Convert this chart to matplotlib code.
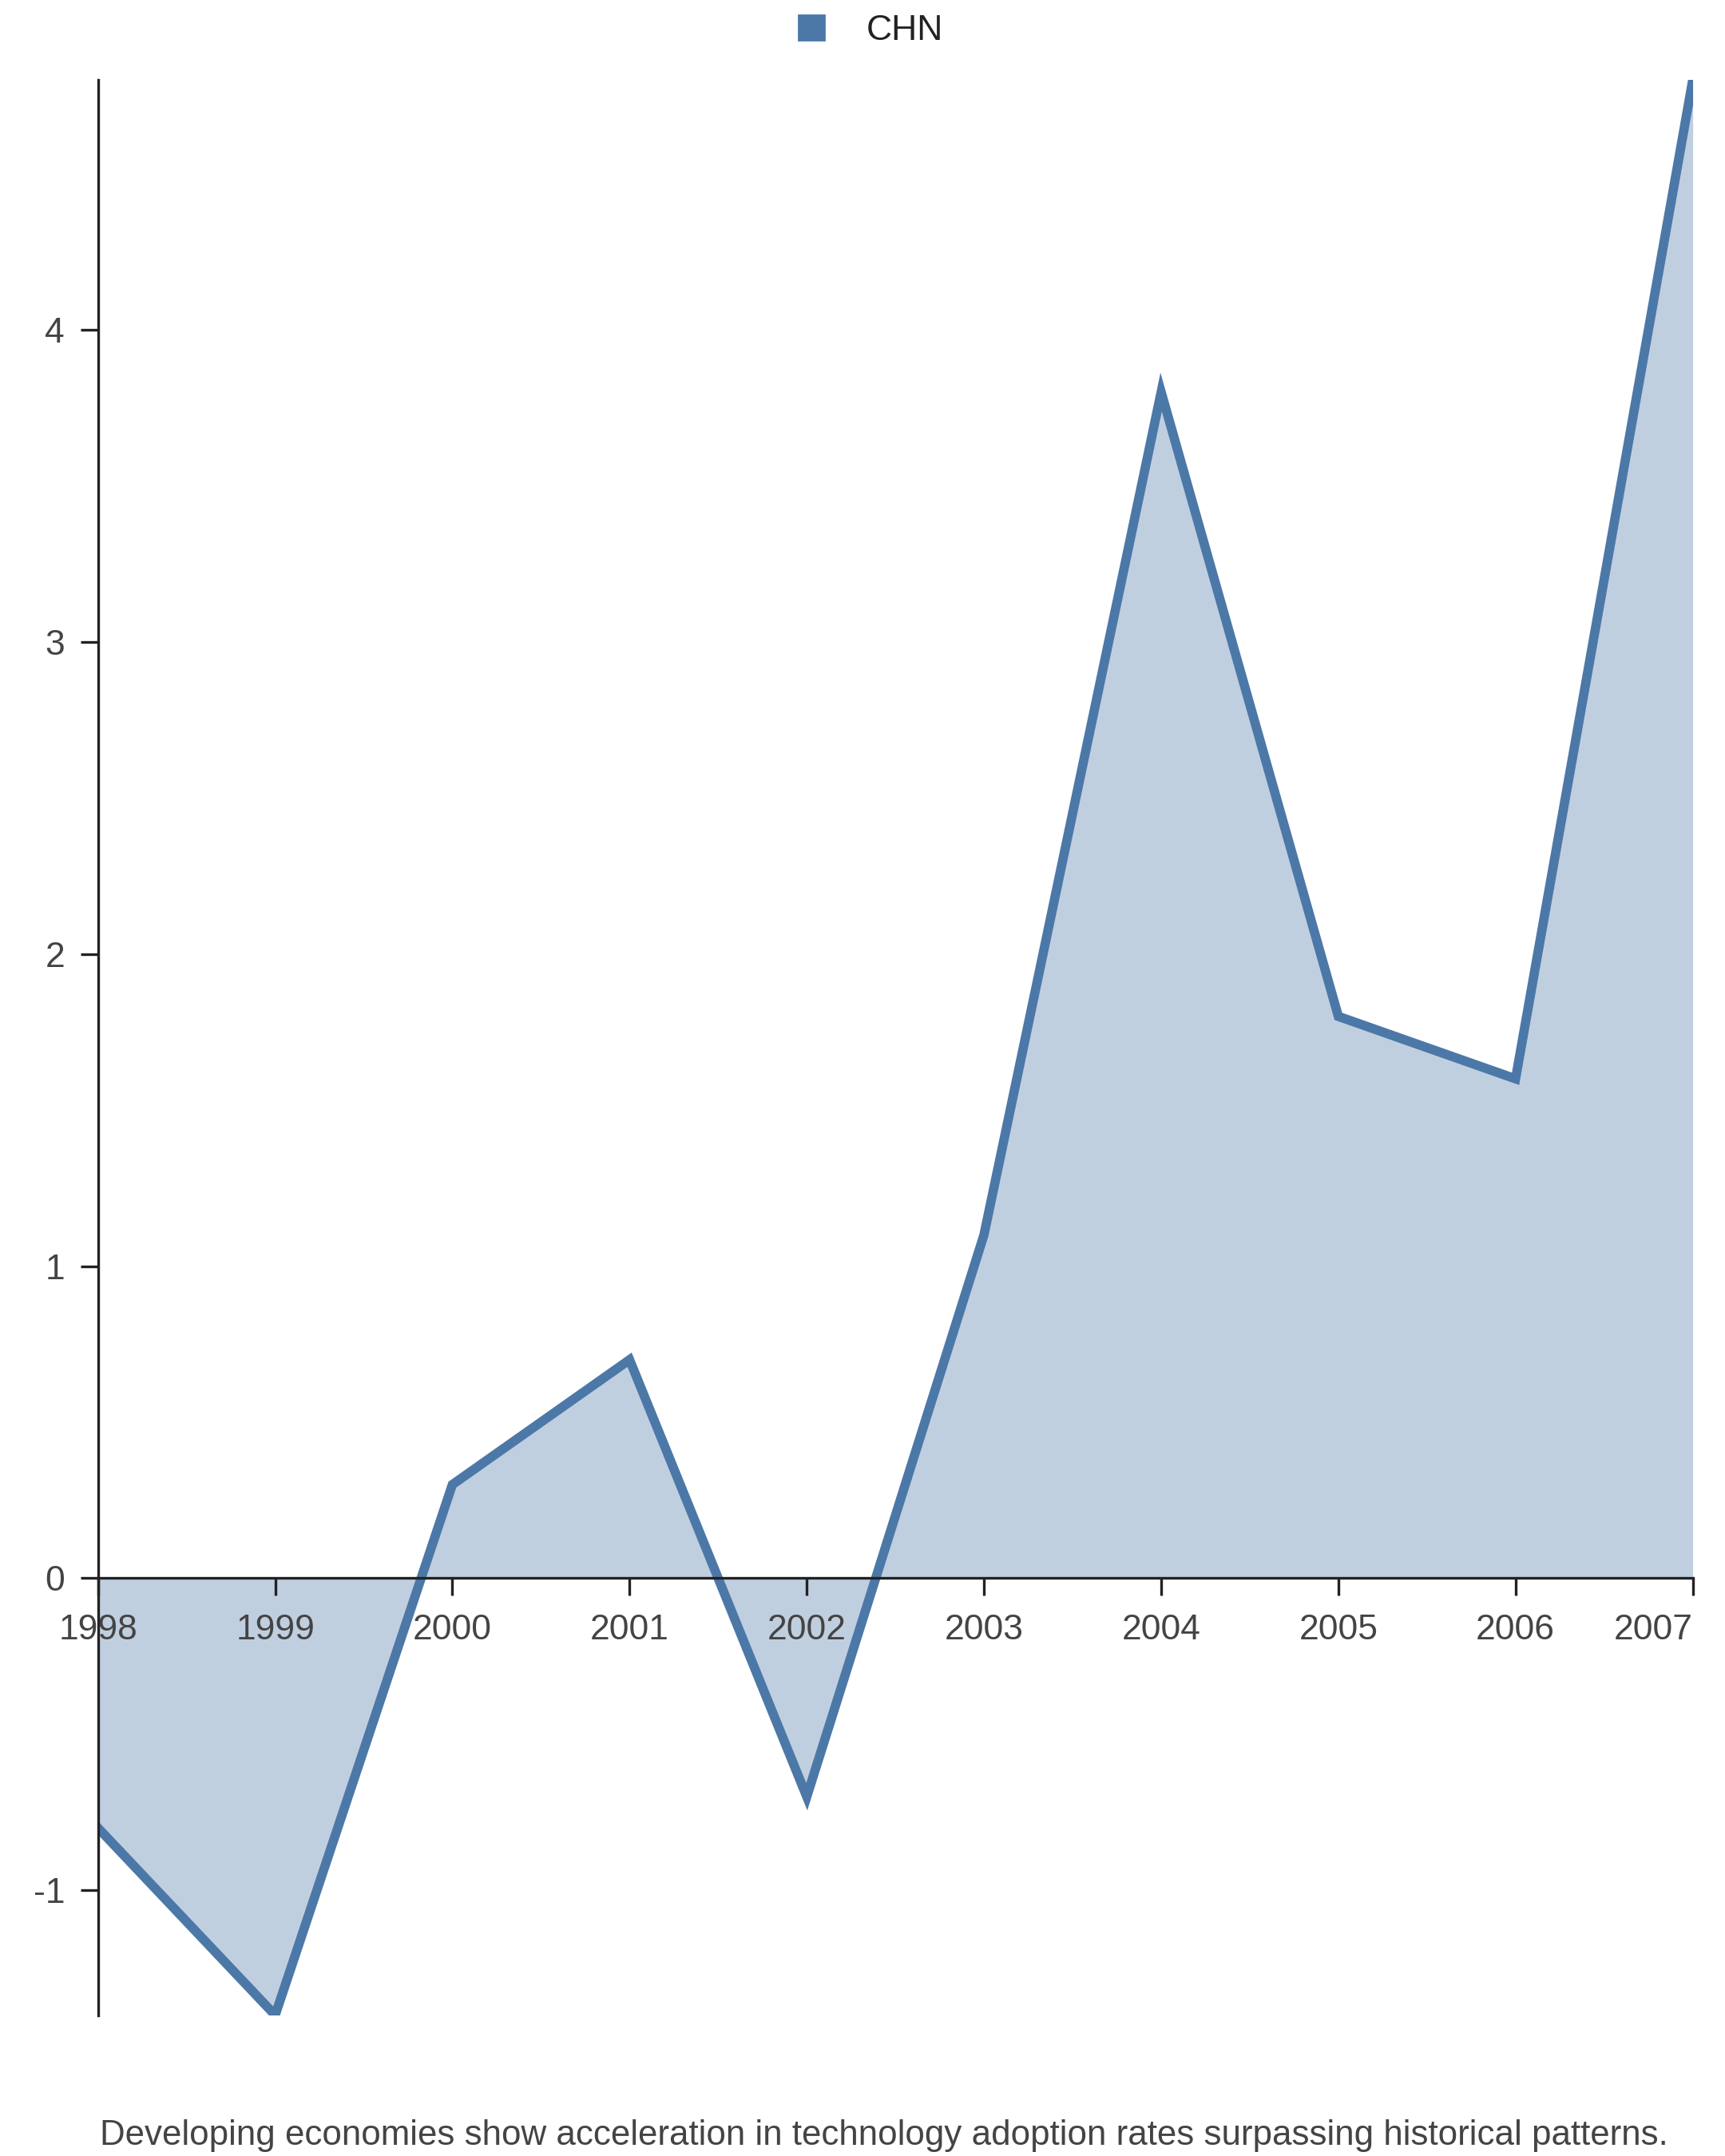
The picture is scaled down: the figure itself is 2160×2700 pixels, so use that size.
import matplotlib
matplotlib.use('Agg')
import matplotlib.pyplot as plt
from matplotlib.patches import Patch

# ── Data ──────────────────────────────────────────────────────────────────────
years = [1998, 1999, 2000, 2001, 2002, 2003, 2004, 2005, 2006, 2007]
chn = [-0.8, -1.4, 0.3, 0.7, -0.7, 1.1, 3.8, 1.8, 1.6, 4.8]
y_ticks = [-1, 0, 1, 2, 3, 4]

LINE = '#4C78A8'
AXIS = '#222222'
TEXT = '#444444'
FS = 16

plt.rcParams['font.family'] = ['Liberation Sans', 'DejaVu Sans']

fig = plt.figure(figsize=(10.8, 13.5), dpi=200)
ax = fig.add_axes([0.0568, 0.0653, 0.9245, 0.8976])

ax.fill_between(years, chn, 0, color=LINE, alpha=0.35, linewidth=0)
ax.plot(years, chn, color=LINE, lw=4.2, solid_joinstyle='miter')

ax.set_xlim(years[0], years[-1])
ax.set_ylim(-1.4, 4.8)

for s in ('top', 'right'):
    ax.spines[s].set_visible(False)
ax.spines['bottom'].set_position(('data', 0))
for s in ('bottom', 'left'):
    ax.spines[s].set_color(AXIS)
    ax.spines[s].set_linewidth(1.2)

ax.set_xticks(years)
ax.set_xticklabels([str(y) for y in years])
ax.get_xticklabels()[-1].set_ha('right')
ax.set_yticks(y_ticks)
ax.set_yticklabels([str(v) for v in y_ticks])
ax.tick_params(axis='both', colors=AXIS, labelcolor=TEXT, labelsize=FS,
               length=8, width=1.2)
ax.tick_params(axis='x', pad=8)
ax.tick_params(axis='y', pad=7)

fig.legend(handles=[Patch(facecolor=LINE, edgecolor=LINE, label='CHN')],
           loc='upper center', bbox_to_anchor=(0.505, 1.008), frameon=False,
           fontsize=FS, handlelength=0.7, handleheight=0.7, handletextpad=1.2,
           labelcolor=AXIS)

fig.text(0.5125, 0.0093,
         'Developing economies show acceleration in technology adoption rates surpassing historical patterns.',
         ha='center', va='center', fontsize=15.8, color=TEXT)

fig.savefig('out.png', dpi=200, facecolor='white')
